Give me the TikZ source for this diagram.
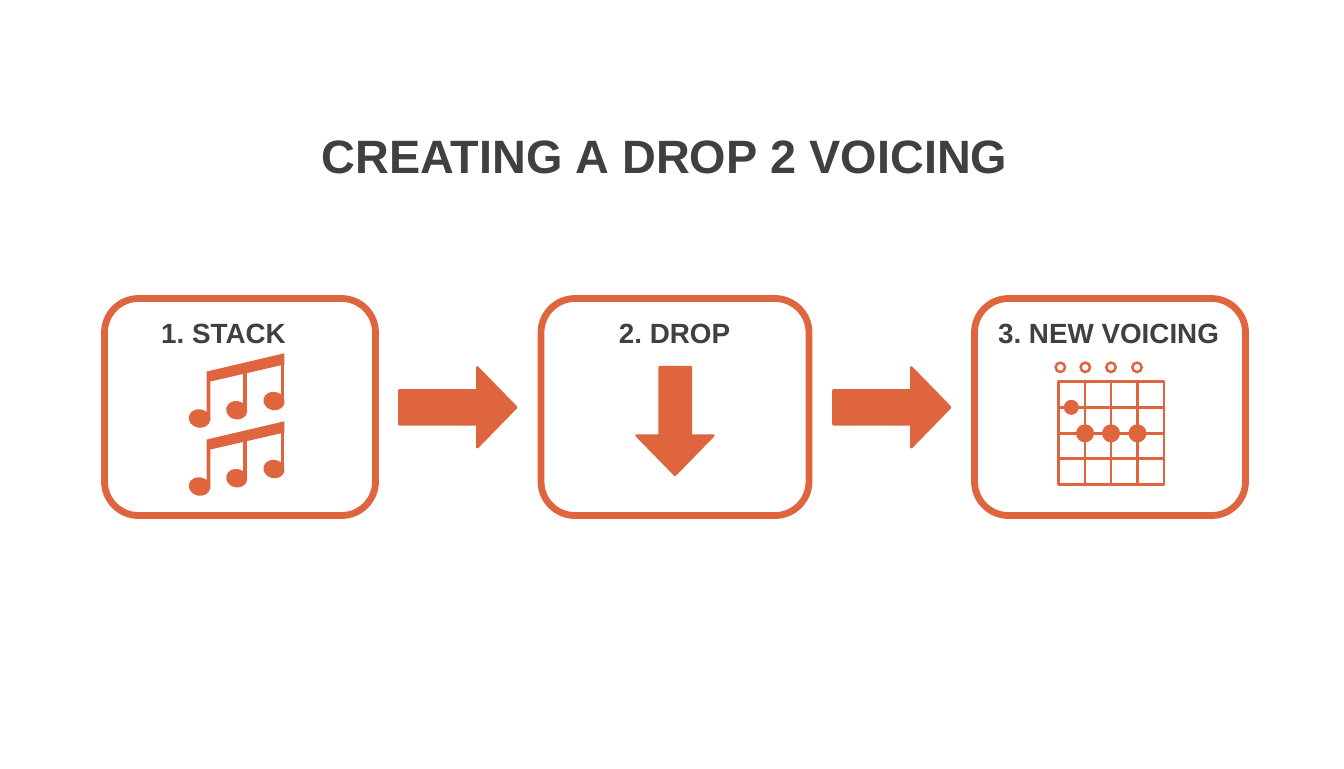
\documentclass[tikz,border=0pt]{standalone}
\usepackage{fontspec}
\setmainfont{Liberation Sans}
\frenchspacing
\definecolor{brand}{HTML}{DE653D}
\definecolor{ink}{HTML}{404040}
\tikzset{
  stepbox/.style={draw=brand,line width=3.4pt,rounded corners=17pt,fill=white,minimum width=135.5pt,minimum height=108.5pt,inner sep=0pt},
  steplabel/.style={text=ink,font=\bfseries\fontsize{13.9}{16}\selectfont,inner sep=0pt,anchor=center},
  titletext/.style={text=ink,font=\bfseries\fontsize{23.4}{28}\selectfont,inner sep=0pt},
  solidicon/.style={fill=brand,draw=brand,line width=1.2pt,line join=round},
  stem/.style={fill=brand},
  gridline/.style={draw=brand,line width=1.45pt,line join=round},
  opencircle/.style={draw=brand,line width=1.25pt,fill=white},
  dot/.style={fill=brand}
}
\newcommand{\notegroup}[1]{%
  \begin{scope}[shift={(0,#1)}]
    \fill[stem] (206.7,371.5) -- (284.3,353.3) -- (284.3,364.5) -- (210.3,381.5) -- (210.3,420) -- (206.7,420) -- cycle;
    \fill[stem] (243.3,372) rectangle (247,408);
    \fill[stem] (280.8,360) rectangle (284.3,400);
    \fill[stem,rotate around={-12:(199.5,418.5)}] (199.5,418.5) ellipse (10.8 and 9.2);
    \fill[stem,rotate around={-12:(236.7,410.2)}] (236.7,410.2) ellipse (10.6 and 9.2);
    \fill[stem,rotate around={-12:(274,401)}] (274,401) ellipse (10.6 and 9.2);
  \end{scope}}
\begin{document}
\begin{tikzpicture}[x=0.5pt,y=-0.5pt]
\useasboundingbox (0,0) rectangle (1344,768);
\node[titletext] (title) at (664.5,157) {CREATING A DROP 2 VOICING};
\node[stepbox] (b1) at (240,407) {};
\node[stepbox,minimum width=134pt] (b2) at (675,407) {};
\node[stepbox] (b3) at (1110,407) {};
\node[steplabel] (l1) at (223.5,334) {1. STACK};
\node[steplabel] (l2) at (674.5,334) {2. DROP};
\node[steplabel] (l3) at (1108.5,334) {3. NEW VOICING};
% icons
\notegroup{0}
\notegroup{68}
% arrows between the boxes
\coordinate (a1) at (397.3,407.3);
\coordinate (a2) at (831.3,407.3);
\foreach \a in {a1,a2}{
  \begin{scope}[shift={(\a)}]
    \fill[solidicon] (2,-17) -- (80,-17) -- (80,-40) -- (119,0) -- (80,40) -- (80,17) -- (2,17) -- cycle;
  \end{scope}}
% down arrow
\fill[solidicon] (659.5,367) -- (691,367) -- (691,435.5) -- (713.5,435.5) -- (675,475) -- (636.5,435.5) -- (659.5,435.5) -- cycle;
% fretboard
\draw[gridline] (1058.5,381.8) rectangle (1164,484.2);
\foreach \x in {1085,1111,1137.7} \draw[gridline] (\x,381.8) -- (\x,484.2);
\foreach \y in {407.3,433.3,458.3} \draw[gridline] (1058.5,\y) -- (1164,\y);
\foreach \x in {1060.3,1085.3,1111,1137} \draw[opencircle] (\x,367.3) circle (4.7);
\fill[dot] (1071.3,407.3) circle (7.5);
\foreach \x in {1085,1111,1137.5} \fill[dot] (\x,433.3) circle (9);
\end{tikzpicture}
\end{document}
